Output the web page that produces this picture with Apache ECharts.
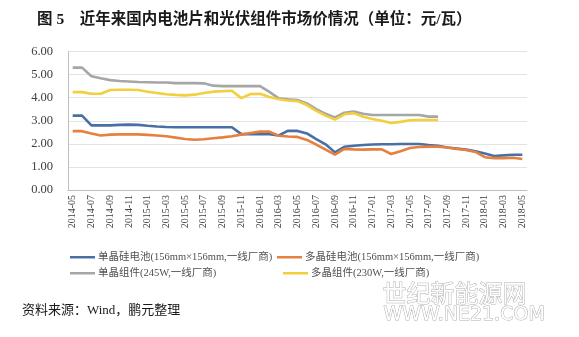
<!DOCTYPE html>
<html>
<head>
<meta charset="utf-8">
<script src="https://cdn.jsdelivr.net/npm/echarts@6/dist/echarts.min.js"></script>
<style>html,body{margin:0;padding:0;background:#fff;}#c{width:579px;height:337px;}</style>
</head>
<body>
<div id="c"></div>
<script>
var categories = [];
(function(){var y=2014,m=5;for(var i=0;i<49;i++){categories.push(y+'-'+(m<10?'0'+m:m));m++;if(m>12){m=1;y++;}}})();

var seriesNames = ['单晶硅电池(156mm×156mm,一线厂商)','多晶硅电池(156mm×156mm,一线厂商)','单晶组件(245W,一线厂商)','多晶组件(230W,一线厂商)'];

var monoCell = [3.22,3.22,2.8,2.8,2.8,2.82,2.83,2.82,2.78,2.75,2.73,2.72,2.72,2.72,2.72,2.72,2.72,2.72,2.42,2.42,2.42,2.42,2.36,2.57,2.56,2.45,2.2,1.98,1.63,1.87,1.92,1.95,1.97,1.98,1.98,1.99,1.99,1.99,1.95,1.92,1.84,1.8,1.75,1.68,1.58,1.47,1.5,1.53,1.53];
var polyCell = [2.55,2.55,2.45,2.36,2.4,2.41,2.41,2.41,2.39,2.36,2.33,2.27,2.21,2.18,2.2,2.24,2.28,2.33,2.4,2.47,2.53,2.53,2.35,2.32,2.3,2.17,1.97,1.75,1.53,1.78,1.76,1.75,1.76,1.76,1.56,1.68,1.82,1.86,1.88,1.88,1.84,1.78,1.73,1.65,1.42,1.38,1.38,1.4,1.34];
var monoModule = [5.3,5.3,4.93,4.84,4.76,4.72,4.7,4.68,4.67,4.66,4.66,4.63,4.63,4.63,4.62,4.52,4.5,4.5,4.5,4.5,4.5,4.25,3.97,3.93,3.9,3.75,3.5,3.3,3.14,3.35,3.4,3.3,3.25,3.25,3.25,3.25,3.25,3.25,3.18,3.18];
var polyModule = [4.24,4.24,4.17,4.17,4.33,4.34,4.34,4.33,4.26,4.2,4.15,4.12,4.1,4.13,4.2,4.26,4.28,4.3,3.98,4.16,4.17,4.03,3.93,3.88,3.85,3.68,3.43,3.22,3.05,3.28,3.33,3.17,3.08,3.0,2.9,2.95,3.02,3.03,3.03,3.03];

var colors = ['#4a6fa5','#e5803f','#a6a6a6','#f2cf3c'];
var font = '"Liberation Serif","Noto Sans CJK SC",serif';

var chart = echarts.init(document.getElementById('c'));
function lg(name, left, top){
  return {data:[name], left:left, top:top, icon:'rect', itemWidth:25, itemHeight:2.5, itemGap:0,
    textStyle:{fontFamily:font, fontSize:10.5, color:'#505050', padding:[0,0,0,-2]}, padding:0};
}
function ser(name, data, color){
  return {name:name, type:'line', data:data, symbol:'none', smooth:false,
    lineStyle:{width:2.6, color:color}, itemStyle:{color:color}};
}
chart.setOption({
  animation:false,
  backgroundColor:'#fff',
  grid:{left:68, right:52, top:51.5, bottom:147},
  xAxis:{type:'category', data:categories, boundaryGap:true,
    axisLine:{lineStyle:{color:'#bfbfbf'}},
    axisTick:{interval:1, length:4, lineStyle:{color:'#bfbfbf'}},
    axisLabel:{interval:1, rotate:90, fontFamily:font, fontSize:10, color:'#404040', margin:5}},
  yAxis:{type:'value', min:0, max:6, interval:1,
    axisLine:{show:true, lineStyle:{color:'#bfbfbf'}},
    axisTick:{show:false},
    splitLine:{lineStyle:{color:'#e3e3e3'}},
    axisLabel:{formatter:function(v){return v.toFixed(2);}, fontFamily:font, fontSize:12.5, color:'#404040', margin:15}},
  legend:[lg(seriesNames[0],70,252), lg(seriesNames[1],277,252), lg(seriesNames[2],70,268), lg(seriesNames[3],283,268)],
  series:[ser(seriesNames[0],monoCell,colors[0]), ser(seriesNames[1],polyCell,colors[1]), ser(seriesNames[2],monoModule,colors[2]), ser(seriesNames[3],polyModule,colors[3])],
  graphic:[
    {type:'text', left:37, top:12, style:{text:'图 5    近年来国内电池片和光伏组件市场价情况（单位：元/瓦）', font:'bold 15.5px "Liberation Serif","Noto Sans CJK SC",serif', fill:'#1a1a1a'}},
    {type:'text', left:22, top:304, style:{text:'资料来源：Wind，鹏元整理', font:'13px "Liberation Serif","Noto Sans CJK SC",serif', fill:'#1a1a1a'}},
    {type:'text', left:382, top:280, style:{text:'世纪新能源网', font:'24px "Noto Sans CJK SC",sans-serif', fill:'#ffffff', stroke:'#b0b0b0', lineWidth:1}},
    {type:'text', left:383, top:305, style:{text:'WWW.NE21.COM', font:'19px "DejaVu Sans",sans-serif', fill:'#ffffff', stroke:'#b0b0b0', lineWidth:1}}
  ]
});
</script>
</body>
</html>
